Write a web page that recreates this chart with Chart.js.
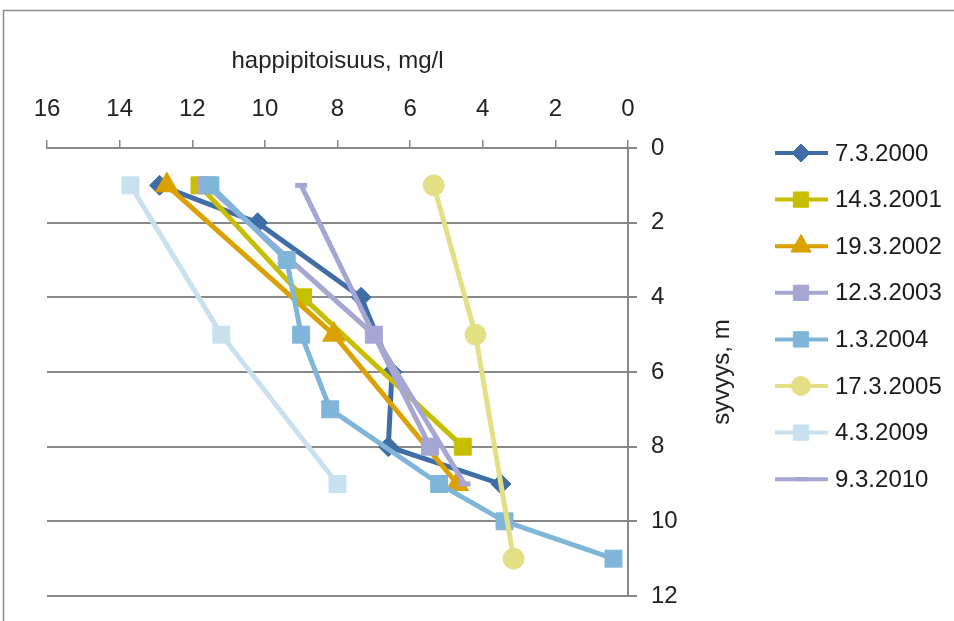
<!DOCTYPE html>
<html>
<head>
<meta charset="utf-8">
<script src="https://cdn.jsdelivr.net/npm/chart.js@4/dist/chart.umd.min.js"></script>
<style>
  html, body { margin: 0; padding: 0; background: #fff; }
  canvas { display: block; }
</style>
</head>
<body>
<canvas id="chart" width="954" height="621"></canvas>
<script>
// happipitoisuus (mg/l) syvyyden (m) mukaan, mittauspäivät
const seriesNames = ['7.3.2000', '14.3.2001', '19.3.2002', '12.3.2003', '1.3.2004', '17.3.2005', '4.3.2009', '9.3.2010'];

const depth2000 = [1, 2, 4, 6, 8, 9];
const oxy2000   = [12.9, 10.2, 7.35, 6.5, 6.6, 3.5];
const depth2001 = [1, 4, 8];
const oxy2001   = [11.8, 8.95, 4.55];
const depth2002 = [1, 5, 9];
const oxy2002   = [12.7, 8.1, 4.7];
const depth2003 = [1, 5, 8];
const oxy2003   = [11.6, 7.0, 5.45];
const depth2004 = [1, 3, 5, 7, 9, 10, 11];
const oxy2004   = [11.5, 9.4, 9.0, 8.2, 5.2, 3.4, 0.4];
const depth2005 = [1, 5, 11];
const oxy2005   = [5.35, 4.2, 3.15];
const depth2009 = [1, 5, 9];
const oxy2009   = [13.7, 11.2, 8.0];
const depth2010 = [1, 5, 9];
const oxy2010   = [9.0, 7.0, 4.5];

const xTicks = [16, 14, 12, 10, 8, 6, 4, 2, 0];
const yTicks = [0, 2, 4, 6, 8, 10, 12];

const depths = [depth2000, depth2001, depth2002, depth2003, depth2004, depth2005, depth2009, depth2010];
const oxys   = [oxy2000, oxy2001, oxy2002, oxy2003, oxy2004, oxy2005, oxy2009, oxy2010];
const colors = ['#3F6EA6', '#C8BE00', '#DBA100', '#A6A6D3', '#7FB5D9', '#E3DF84', '#C9E1EE', '#A6A6D3'];
const styles = ['rectRot', 'rect', 'triangle', 'rect', 'rect', 'circle', 'rect', 'line'];
const radii  = [10, 12, 13, 12, 12, 10.5, 12, 6];

const FONT = "'Liberation Sans', Arial, sans-serif";
const FSIZE = 24;
const GRID = '#888888';

const datasets = seriesNames.map((name, i) => ({
  label: name,
  data: depths[i].map((d, j) => ({ x: oxys[i][j], y: d })),
  showLine: true,
  borderColor: colors[i],
  backgroundColor: colors[i],
  borderWidth: 5,
  pointStyle: styles[i],
  pointRadius: radii[i],
  pointBorderWidth: styles[i] === 'line' ? 5 : 1,
  pointBorderColor: colors[i],
  pointBackgroundColor: colors[i],
  order: seriesNames.length - i   // myöhemmät sarjat päällimmäisiksi
}));

// kehys + valkoinen tausta
const framePlugin = {
  id: 'frame',
  beforeDraw(chart) {
    const c = chart.ctx;
    c.save();
    c.fillStyle = '#fff';
    c.fillRect(0, 0, chart.width, chart.height);
    c.strokeStyle = '#888';
    c.lineWidth = 1.5;
    c.strokeRect(3.5, 10.5, 1200, 1200);
    c.restore();
  }
};

// y-akselin otsikko, luetaan alhaalta ylös
const yTitlePlugin = {
  id: 'yTitle',
  afterDraw(chart) {
    const c = chart.ctx;
    c.save();
    c.fillStyle = '#222';
    c.font = FSIZE + 'px ' + FONT;
    c.textAlign = 'center';
    c.textBaseline = 'middle';
    c.translate(722, 372);
    c.rotate(-Math.PI / 2);
    c.fillText('syvyys, m', 0, 0);
    c.restore();
  }
};

// selite oikealla: viiva + merkki + teksti
const legendPlugin = {
  id: 'customLegend',
  afterDraw(chart) {
    const c = chart.ctx;
    c.save();
    chart.data.datasets.forEach((ds, i) => {
      const y = 153 + i * 46.6;
      c.strokeStyle = ds.borderColor;
      c.lineWidth = 4;
      c.beginPath(); c.moveTo(775, y); c.lineTo(828, y); c.stroke();
      c.fillStyle = ds.backgroundColor;
      c.lineWidth = ds.pointStyle === 'line' ? 4 : 1;
      Chart.helpers.drawPoint(c, {
        pointStyle: ds.pointStyle,
        radius: ds.pointStyle === 'line' ? 6 : ds.pointRadius * 0.9,
        rotation: 0,
        borderWidth: c.lineWidth
      }, 801, y);
      c.fillStyle = '#1a1a1a';
      c.font = FSIZE + 'px ' + FONT;
      c.textAlign = 'left';
      c.textBaseline = 'middle';
      c.fillText(ds.label, 835, y + 1);
    });
    c.restore();
  }
};

new Chart(document.getElementById('chart').getContext('2d'), {
  type: 'scatter',
  data: { datasets },
  plugins: [framePlugin, yTitlePlugin, legendPlugin],
  options: {
    responsive: false,
    animation: false,
    layout: { padding: { left: 47, top: 0, right: 0, bottom: 25 } },
    plugins: { legend: { display: false }, tooltip: { enabled: false } },
    scales: {
      x: {
        type: 'linear',
        position: 'top',
        reverse: true,
        min: 0, max: 16,
        afterFit(s) { s.height = 148; s.paddingLeft = 0; s.paddingRight = 0; },
        afterBuildTicks(s) { s.ticks = xTicks.map(v => ({ value: v })); },
        ticks: { color: '#222', font: { family: FONT, size: FSIZE }, padding: 16, maxRotation: 0 },
        grid: { drawOnChartArea: false, drawTicks: true, tickLength: 8, color: GRID, lineWidth: 1.5 },
        border: { display: true, color: GRID, width: 2 },
        title: { display: true, text: 'happipitoisuus, mg/l', color: '#222', font: { family: FONT, size: FSIZE }, padding: { top: 47, bottom: 0 } }
      },
      y: {
        type: 'linear',
        position: 'right',
        reverse: true,
        min: 0, max: 12,
        afterFit(s) { s.width = 954 - 628; s.paddingTop = 0; s.paddingBottom = 0; },
        afterBuildTicks(s) { s.ticks = yTicks.map(v => ({ value: v })); },
        ticks: { color: '#222', font: { family: FONT, size: FSIZE }, padding: 14 },
        grid: { color: GRID, lineWidth: 2, tickLength: 9 },
        border: { display: true, color: GRID, width: 2 }
      }
    }
  }
});
</script>
</body>
</html>
